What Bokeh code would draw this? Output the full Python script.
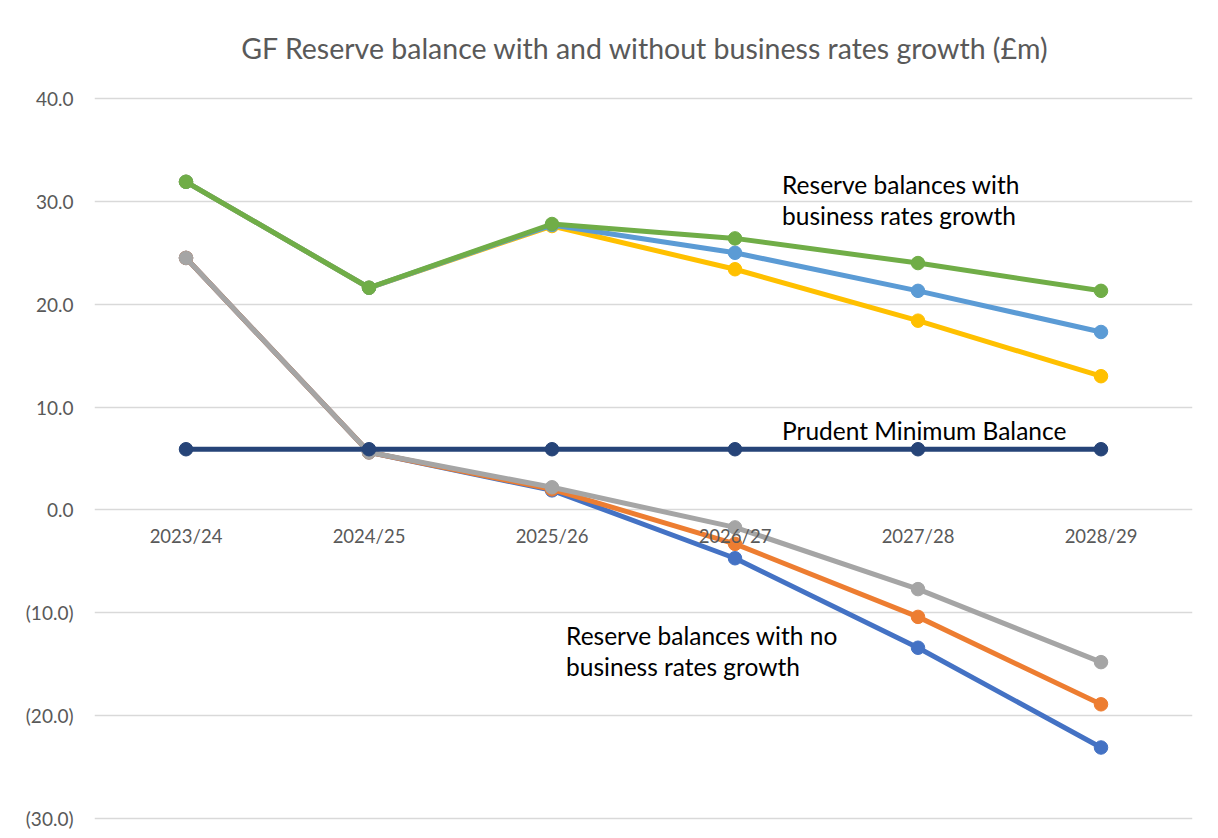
from bokeh.plotting import figure
from bokeh.models import Range1d, FactorRange, FixedTicker, NumeralTickFormatter, Label
from bokeh.embed import file_html
from bokeh.resources import INLINE

years = ["2023/24", "2024/25", "2025/26", "2026/27", "2027/28", "2028/29"]

# Excel default series order / colours
no_growth_1 = [24.5, 5.6, 1.9, -4.7, -13.4, -23.1]
no_growth_2 = [24.5, 5.6, 2.0, -3.3, -10.4, -18.9]
no_growth_3 = [24.5, 5.6, 2.2, -1.7, -7.7, -14.8]
growth_1 = [31.9, 21.6, 27.6, 23.4, 18.4, 13.0]
growth_2 = [31.9, 21.6, 27.7, 25.0, 21.3, 17.3]
growth_3 = [31.9, 21.6, 27.8, 26.4, 24.0, 21.3]
prudent_min = [5.9, 5.9, 5.9, 5.9, 5.9, 5.9]

series = [
    (no_growth_1, "#4472C4"),
    (no_growth_2, "#ED7D31"),
    (no_growth_3, "#A5A5A5"),
    (growth_1, "#FFC000"),
    (growth_2, "#5B9BD5"),
    (growth_3, "#70AD47"),
    (prudent_min, "#264478"),
]

y_ticks = [-30, -20, -10, 0, 10, 20, 30, 40]
title_text = "GF Reserve  balance with and without business rates growth (£m)"
FONT = "Lato"

p = figure(x_range=FactorRange(*years), y_range=Range1d(-31.17, 49.53),
           width=1209, height=830, output_backend="svg", toolbar_location=None,
           min_border_left=94, min_border_right=17, min_border_top=0, min_border_bottom=0)
p.outline_line_color = None
p.background_fill_color = "white"
p.border_fill_color = "white"

p.xgrid.grid_line_color = None
p.ygrid.grid_line_color = "#d9d9d9"
p.ygrid.grid_line_width = 1.5
p.yaxis.ticker = FixedTicker(ticks=y_ticks)
p.yaxis.formatter = NumeralTickFormatter(format="(0.0)")
p.yaxis.axis_line_color = None
p.yaxis.major_tick_line_color = None
p.yaxis.minor_tick_line_color = None
p.yaxis.major_label_text_font = FONT
p.yaxis.major_label_text_font_size = "19px"
p.yaxis.major_label_text_color = "#595959"
p.yaxis.major_label_standoff = 15

p.xaxis.fixed_location = 0
p.xaxis.axis_line_color = None
p.xaxis.major_tick_line_color = None
p.xaxis.minor_tick_line_color = None
p.xaxis.major_label_text_font = FONT
p.xaxis.major_label_text_font_size = "18.5px"
p.xaxis.major_label_text_color = "#595959"
p.xaxis.major_label_standoff = 9

for vals, col in series:
    p.line(years, vals, line_width=5, color=col)
    p.scatter(years, vals, size=13.5, color=col)

p.add_layout(Label(x=3.03, y=44.95, text=title_text, text_align="center",
                   text_baseline="middle", text_font=FONT, text_font_size="28.5px",
                   text_color="#595959"))

notes = [
    (3.757, 31.64, "Reserve balances with"),
    (3.757, 28.63, "business rates growth"),
    (3.757, 7.72, "Prudent Minimum Balance"),
    (2.577, -12.2, "Reserve balances with no"),
    (2.577, -15.22, "business rates growth"),
]
for x, y, t in notes:
    p.add_layout(Label(x=x, y=y, text=t, text_align="left", text_baseline="middle",
                       text_font=FONT, text_font_size="24.5px", text_color="#000000"))

open("out.html", "w").write(file_html(p, INLINE))
